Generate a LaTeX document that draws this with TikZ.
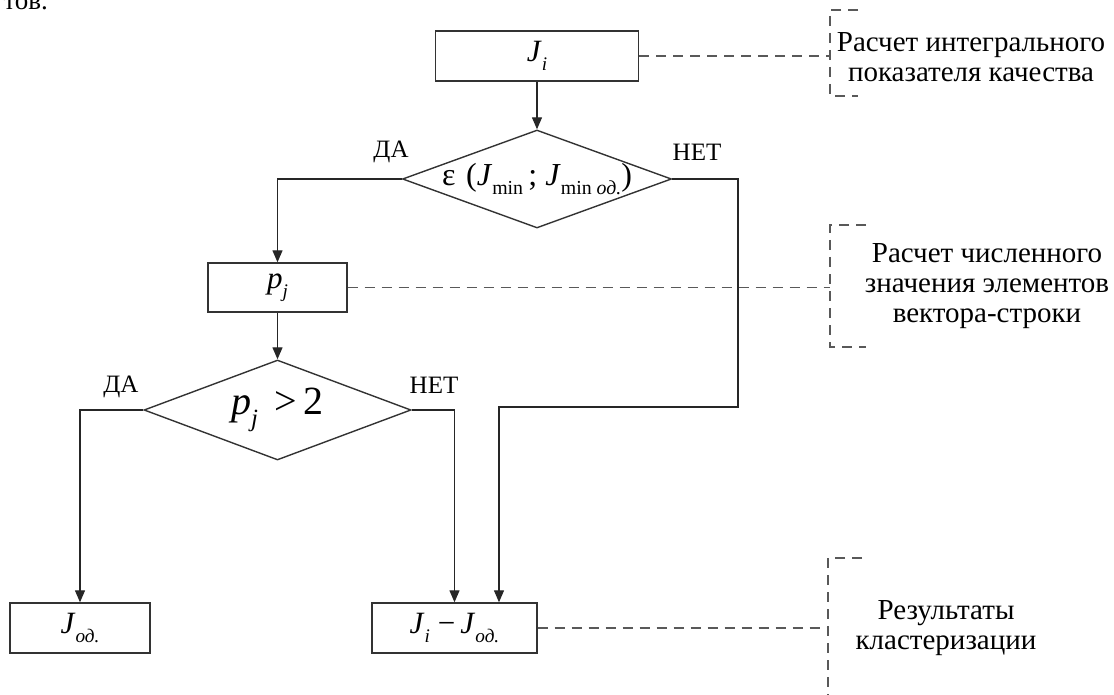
\documentclass[tikz,border=0pt]{standalone}
\usepackage{fontspec}
\setmainfont{Liberation Serif}
\usepackage{tikz}
\usetikzlibrary{positioning,shapes.geometric,arrows.meta}

\newcommand{\fsz}[2]{\fontsize{#1}{#2}\selectfont}
\newcommand{\idx}[1]{\raisebox{-0.3em}{\scalebox{0.62}{#1}}}

\begin{document}
\begin{tikzpicture}[x=1pt, y=-1pt, >={Triangle[length=12pt,width=10pt]},
    block/.style={rectangle, draw=black!80, line width=1.4pt, inner sep=0pt, minimum height=50pt, font=\fsz{31}{31}},
    cond/.style={diamond, draw=black!80, line width=1.4pt, inner sep=0pt},
    flow/.style={->, draw=black!85, line width=1.3pt},
    lead/.style={draw=black!65, line width=1.6pt, dash pattern=on 10pt off 7pt},
    note/.style={align=center, font=\fsz{29}{30}},
    answer/.style={font=\fsz{25}{25}}]
                \useasboundingbox (0,0) rectangle (1114,695);
                \clip (0,0) rectangle (1114,695);

                \node[anchor=base west, font=\fsz{27}{27}] (tov) at (0,10) {тов.};

                \node[block, minimum width=203pt] (Ji) at (537,56) {\textit{J}\idx{\textit{i}}};
                \node[cond, minimum width=269pt, minimum height=98pt] (eps) at (537,179) {};
                \node[font=\fsz{32}{32}] (epstext) at (eps) {ε\,\,(\textit{J}\idx{min}\,; \textit{J}\idx{min \textit{од.}})};
                \node[block, minimum width=139pt, minimum height=49pt] (pj) at (277.5,287.5) {\textit{p}\idx{\textit{j}}};
                \node[cond, minimum width=267pt, minimum height=100pt] (pgt) at (277.5,410) {};
                \node[font=\fsz{40}{40}] (pgttext) at (pgt) {\textit{p}\idx{\textit{j}}\ \,>\,2};
                \node[block, minimum width=140pt] (Jod) at (80,628) {\textit{J}\idx{\textit{од.}}};
                \node[block, minimum width=165pt] (Jdiff) at (454.5,628) {\textit{J}\idx{\textit{i}} −\,\textit{J}\idx{\textit{од.}}};

                \node[answer] (yes1) at (391,152) {ДА};
                \node[answer] (no1) at (697,152) {НЕТ};
                \node[answer] (yes2) at (121,387) {ДА};
                \node[answer] (no2) at (434,385) {НЕТ};

                \node[note] (note1) at (971,57) {Расчет интегрального\\показателя качества};
                \node[note] (note2) at (987,286) {Расчет численного\\значения элементов\\вектора-строки};
                \node[note] (note3) at (946,628) {Результаты\\кластеризации};

                \coordinate (netturn) at (738,407);
                \coordinate (b1) at (830,56);
                \coordinate (b2) at (830,287.5);
                \coordinate (b3) at (828,628);

                \path (Ji) edge[flow] (eps)
                      (pj) edge[flow] (pgt);
                \draw[flow] (eps.west) -| (pj.north);
                \draw[flow] (eps.east) -| (netturn) -| ([xshift=44.5pt]Jdiff.north);
                \draw[flow] (pgt.west) -| (Jod.north);
                \draw[flow] (pgt.east) -| (Jdiff.north);

                % dashed leaders and brackets
                \draw[lead] (Ji.east) -- (b1);
                \draw[lead] (pj.east) -- (b2);
                \draw[lead] (Jdiff.east) -- (b3);
                \draw[lead] (858,10) -- (830,10) -- (830,96) -- (858,96);
                \draw[lead] (866,225) -- (830,225) -- (830,347) -- (866,347);
                \draw[lead] (862,558) -- (828,558) -- (828,705);
            \end{tikzpicture}
\end{document}
